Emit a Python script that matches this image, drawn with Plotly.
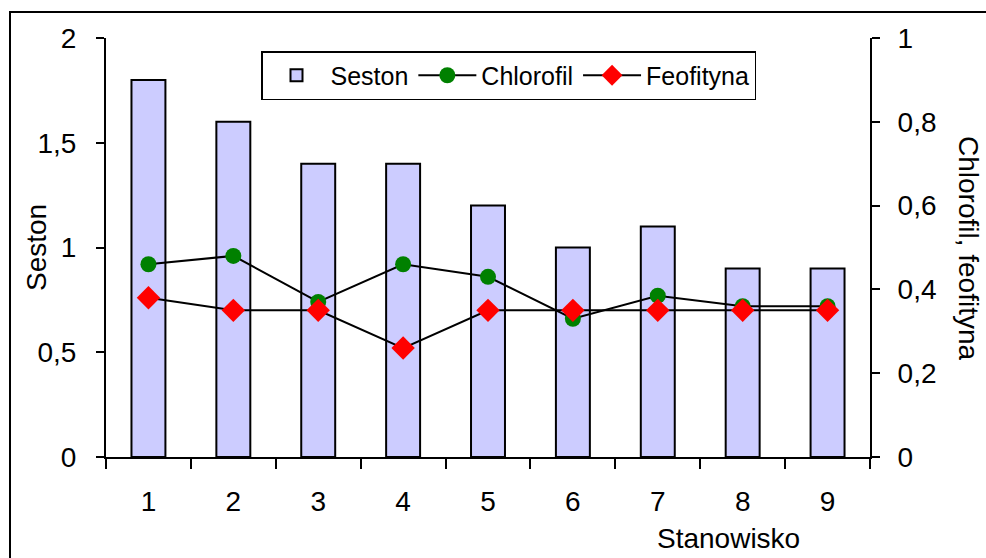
import plotly.graph_objects as go

# Sampling sites and measured values
stanowisko = ["1", "2", "3", "4", "5", "6", "7", "8", "9"]
seston = [1.8, 1.6, 1.4, 1.4, 1.2, 1.0, 1.1, 0.9, 0.9]
chlorofil = [0.46, 0.48, 0.37, 0.46, 0.43, 0.33, 0.385, 0.36, 0.36]
feofityna = [0.38, 0.35, 0.35, 0.26, 0.35, 0.35, 0.35, 0.35, 0.35]

FONT = "Liberation Sans, Arial, sans-serif"
FS = 28
W, H = 986, 558
L, R, T, B = 106, 116, 38, 101
pw, ph = W - L - R, H - T - B


def px_to_paper(x, y):
    return (x - L) / pw, (H - B - y) / ph


fig = go.Figure()
fig.add_trace(go.Bar(
    x=stanowisko, y=seston, name="Seston",
    marker=dict(color="#CCCCFF", line=dict(color="black", width=2)),
    width=0.4,
))
fig.add_trace(go.Scatter(
    x=stanowisko, y=chlorofil, name="Chlorofil", yaxis="y2",
    mode="lines+markers",
    line=dict(color="black", width=2),
    marker=dict(symbol="circle", color="#008000", size=16),
))
fig.add_trace(go.Scatter(
    x=stanowisko, y=feofityna, name="Feofityna", yaxis="y2",
    mode="lines+markers",
    line=dict(color="black", width=2),
    marker=dict(symbol="diamond", color="#FF0000", size=18),
))

axis_common = dict(
    showgrid=False, zeroline=False, showline=True, linecolor="black",
    linewidth=2, ticks="outside", tickcolor="black", tickwidth=2,
    tickfont=dict(family=FONT, size=FS, color="black"),
)

lx, ly = px_to_paper(261, 51)
fx0, fy0 = px_to_paper(10, 12)
fx1, fy1 = px_to_paper(1010, 580)
title_font = dict(family=FONT, size=FS, color="black")

fig.update_layout(
    width=W, height=H,
    margin=dict(l=L, r=R, t=T, b=B),
    paper_bgcolor="white", plot_bgcolor="white",
    separators=", ",
    showlegend=True,
    barmode="overlay",
    xaxis=dict(**axis_common, type="category", tickson="boundaries",
               ticklen=10, ticklabelstandoff=18, range=[-0.5, 8.5]),
    yaxis=dict(**axis_common, range=[0, 2], dtick=0.5, ticklen=8,
               ticklabelstandoff=14, tickformat=".1~f"),
    yaxis2=dict(**axis_common, range=[0, 1], dtick=0.2, ticklen=8,
                overlaying="y", side="right", ticklabelstandoff=12,
                tickformat=".1~f"),
    legend=dict(
        orientation="h", x=lx, y=ly, xanchor="left", yanchor="top",
        bordercolor="black", borderwidth=1.5, bgcolor="white",
        font=dict(family=FONT, size=25, color="black"),
        itemwidth=58, tracegroupgap=0,
    ),
    annotations=[
        dict(text="Seston", xref="paper", yref="paper",
             x=px_to_paper(36, 0)[0], y=px_to_paper(0, 248)[1],
             xanchor="center", yanchor="middle",
             showarrow=False, textangle=-90, font=title_font),
        dict(text="Chlorofil, feofityna", xref="paper", yref="paper",
             x=px_to_paper(969, 0)[0], y=px_to_paper(0, 248)[1],
             xanchor="center", yanchor="middle",
             showarrow=False, textangle=90, font=title_font),
        dict(text="Stanowisko", xref="paper", yref="paper",
             x=px_to_paper(728, 0)[0], y=px_to_paper(0, 538)[1],
             xanchor="center", yanchor="middle",
             showarrow=False, font=title_font),
    ],
    shapes=[
        dict(type="rect", xref="paper", yref="paper",
             x0=fx0, y0=fy1, x1=fx1, y1=fy0,
             line=dict(color="black", width=2), layer="below"),
    ],
)

fig.write_html("out.html")
